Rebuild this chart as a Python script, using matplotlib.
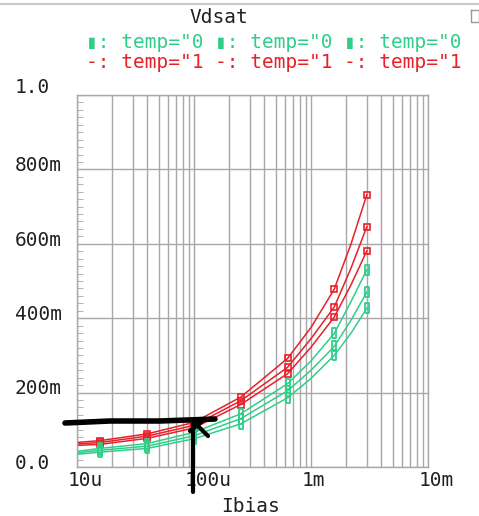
import matplotlib
matplotlib.use("Agg")
import matplotlib.pyplot as plt
from matplotlib.lines import Line2D
from matplotlib.transforms import blended_transform_factory
import numpy as np

# =========================
# DATA
# =========================
ibias = [10e-6, 15.8e-6, 39.8e-6, 100e-6, 251e-6, 631e-6, 1.0e-3, 1.58e-3, 2.2e-3, 3.0e-3]
mark_idx = [1, 2, 3, 4, 5, 7, 9]

red_1 = [0.066, 0.071, 0.089, 0.120, 0.188, 0.292, 0.375, 0.478, 0.600, 0.732]
red_2 = [0.062, 0.066, 0.083, 0.112, 0.178, 0.268, 0.345, 0.430, 0.535, 0.646]
red_3 = [0.058, 0.061, 0.077, 0.105, 0.168, 0.251, 0.322, 0.403, 0.490, 0.581]
green_1 = [0.042, 0.050, 0.063, 0.093, 0.143, 0.224, 0.285, 0.359, 0.445, 0.530]
green_2 = [0.038, 0.045, 0.056, 0.084, 0.130, 0.205, 0.260, 0.324, 0.395, 0.470]
green_3 = [0.034, 0.040, 0.050, 0.076, 0.116, 0.186, 0.238, 0.300, 0.360, 0.427]

xtick_vals = [10e-6, 100e-6, 1e-3, 10e-3]
xtick_labels = ["10u", "100u", "1m", "10m"]
ytick_vals = [0.0, 0.2, 0.4, 0.6, 0.8, 1.0]
ytick_labels = ["0.0", "200m", "400m", "600m", "800m", "1.0"]

title = "Vdsat"
xlabel = "Ibias"
legend_green = ['▮: temp="0', '▮: temp="0', '▮: temp="0']
legend_red = ['-: temp="1', '-: temp="1', '-: temp="1']

RED = "#e8202a"
GREEN = "#2fcf8a"
GRID = "#a8a8a8"
FONT = "DejaVu Sans Mono"

W, H = 479, 516
fig = plt.figure(figsize=(W / 100, H / 100), dpi=100)
ax = fig.add_axes([77 / W, 1 - 467 / H, (428 - 77) / W, (467 - 95) / H])

ax.set_xscale("log")
ax.set_xlim(10e-6, 10e-3)
ax.set_ylim(0, 1.0)

# grid
ax.set_yticks(ytick_vals)
ax.set_yticks(np.arange(0, 1.0001, 0.02), minor=True)
ax.grid(True, which="major", axis="both", color=GRID, lw=1.0)
ax.grid(True, which="minor", axis="x", color=GRID, lw=1.0)
ax.tick_params(axis="y", which="minor", direction="in", length=4, color=GRID, labelleft=False)
ax.tick_params(axis="y", which="major", length=0, labelleft=False)
ax.tick_params(axis="x", which="both", length=0, labelbottom=False)
for s in ax.spines.values():
    s.set_color(GRID)
    s.set_linewidth(1.0)

# curves
green_mk = [(-0.45, -1), (0.45, -1), (0.45, 1), (-0.45, 1), (-0.45, -1)]
for ys in [red_1, red_2, red_3]:
    ax.plot(ibias, ys, color=RED, lw=1.1, marker="s", ms=5, mfc="none",
            mec=RED, mew=1.2, markevery=mark_idx)
for ys in [green_1, green_2, green_3]:
    ax.plot(ibias, ys, color=GREEN, lw=1.1, marker=green_mk, ms=7, mfc="none",
            mec=GREEN, mew=1.3, markevery=mark_idx)

# tick labels (left aligned like the original tool)
ytr = blended_transform_factory(fig.transFigure, ax.transData)
for v, lab in zip(ytick_vals, ytick_labels):
    dy = 0.02 if v == 1.0 else 0.01
    ax.text(15 / W, v + dy, lab, transform=ytr, ha="left", va="center",
            fontsize=14, family=FONT, color="#202020")
xtr = blended_transform_factory(ax.transData, fig.transFigure)
for v, lab in zip(xtick_vals, xtick_labels):
    t = ax.text(v, 1 - 481 / H, lab, transform=xtr, ha="left", va="center",
                fontsize=14, family=FONT, color="#202020", clip_on=False)
    t.set_x(v / 10 ** (9 / 117))

fig.text(250 / W, 1 - 506 / H, xlabel, ha="center", va="center", fontsize=14,
         family=FONT, color="#202020")
fig.text(219 / W, 1 - 17 / H, title, ha="center", va="center", fontsize=14,
         family=FONT, color="#202020")

# legend rows
for k, (g, r) in enumerate(zip(legend_green, legend_red)):
    x0 = (86 + 129 * k) / W
    fig.text(x0, 1 - 43 / H, g, ha="left", va="center", fontsize=14, family=FONT, color=GREEN)
    fig.text(x0, 1 - 62 / H, r, ha="left", va="center", fontsize=14, family=FONT, color=RED)

# window border bits
fig.add_artist(Line2D([0, 1], [1 - 4 / H, 1 - 4 / H], transform=fig.transFigure, color="#c8c8c8", lw=1.5))
fig.add_artist(Line2D([471 / W, 479 / W, 479 / W, 471 / W, 471 / W],
                      [1 - 10 / H, 1 - 10 / H, 1 - 22 / H, 1 - 22 / H, 1 - 10 / H],
                      transform=fig.transFigure, color="#999999", lw=1))

# hand-drawn annotation (black line + arrow)
def px(xs, ys):
    return [x / W for x in xs], [1 - y / H for y in ys]

for xs, ys, lw in [
    ([65, 110, 160, 215], [423, 421, 421, 419], 4),
    ([193, 193], [492, 424], 3),
    ([190, 205], [431, 419], 3),
    ([195, 208], [423, 436], 3),
]:
    fx, fy = px(xs, ys)
    fig.add_artist(Line2D(fx, fy, transform=fig.transFigure, color="black", lw=lw,
                          solid_capstyle="round"))

fig.savefig("out.png", dpi=100)
